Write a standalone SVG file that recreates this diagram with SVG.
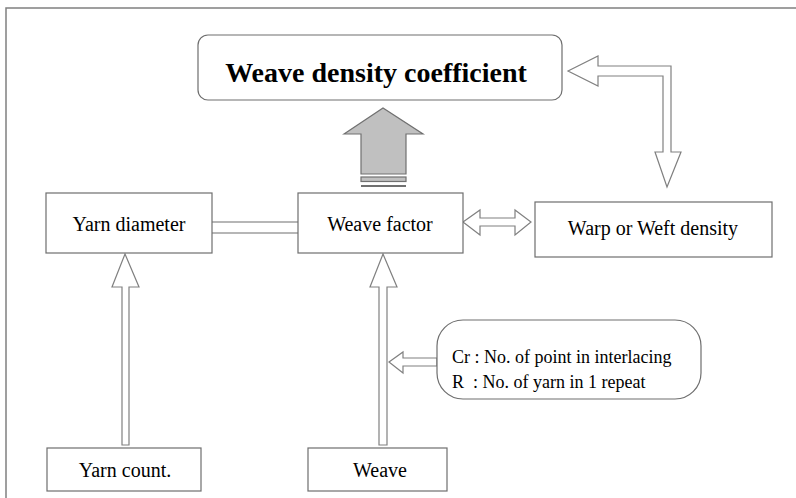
<svg xmlns="http://www.w3.org/2000/svg" width="796" height="498" viewBox="0 0 796 498">
<style>
.box{fill:#fff;stroke:#6e6e6e;stroke-width:1.2}
.arr{fill:#fff;stroke:#808080;stroke-width:1.2;stroke-linejoin:miter}
text{font-family:'Liberation Serif','Times New Roman',Tinos,Times,'DejaVu Serif',serif;fill:#000}
.t{font-size:20px;text-anchor:middle}
.s{font-size:18px;white-space:pre}
.ti{font-size:28px;font-weight:bold;text-anchor:middle}
</style>
<rect width="796" height="498" fill="#fff"/>
<path d="M6,498 V8 H796" fill="none" stroke="#808080" stroke-width="1.5"/>
<g id="connectors">
<polygon class="arr" points="344,134 383,108 423,134 406,134 406,174 361,174 361,134" style="fill:#c0c0c0;stroke:#707070"/>
<rect x="361" y="177" width="45" height="4.5" fill="#c0c0c0" stroke="#707070" stroke-width="1.2"/>
<line x1="361" y1="186" x2="406" y2="186" stroke="#707070" stroke-width="2"/>
<line x1="212" y1="222" x2="298" y2="222" stroke="#6e6e6e" stroke-width="1.2"/>
<line x1="212" y1="233" x2="298" y2="233" stroke="#6e6e6e" stroke-width="1.2"/>
<polygon class="arr" points="463,222 480,210 480,218 515,218 515,210 531,222 515,235 515,226 480,226 480,235"/>
<polygon class="arr" points="568,71 598,56 598,66 671,66 671,152 681,152 667,187 655,152 663,152 663,76 598,76 598,86"/>
<polygon class="arr" points="125,254 139,287 129,287 129,445 122,445 122,287 112,287"/>
<polygon class="arr" points="383,254 397,287 387,287 387,445 379,445 379,287 370,287"/>
<polygon class="arr" points="389,362 403,352 403,358 437,358 437,366 403,366 403,373"/>
</g>
<g id="title">
<rect class="box" x="198" y="35" width="364" height="65" rx="10"/>
<text class="ti" x="376" y="82" font-family="Liberation Serif, serif">Weave density coefficient</text>
</g>
<g id="yarn-diameter">
<rect class="box" x="46" y="193" width="166" height="60"/>
<text class="t" x="129" y="231">Yarn diameter</text>
</g>
<g id="weave-factor">
<rect class="box" x="298" y="193" width="165" height="60"/>
<text class="t" x="380" y="231">Weave factor</text>
</g>
<g id="warp-weft-density">
<rect class="box" x="535" y="202" width="237" height="55"/>
<text class="t" x="653" y="235">Warp or Weft density</text>
</g>
<g id="callout">
<rect class="box" x="437" y="320" width="264" height="79" rx="26"/>
<text class="s" x="452" y="363">Cr : No. of point in interlacing</text>
<text class="s" x="452" y="388" xml:space="preserve">R  : No. of yarn in 1 repeat</text>
</g>
<g id="yarn-count">
<rect class="box" x="47" y="448" width="154" height="43"/>
<text class="t" x="125" y="477">Yarn count.</text>
</g>
<g id="weave">
<rect class="box" x="308" y="448" width="139" height="43"/>
<text class="t" x="380" y="477">Weave</text>
</g>
</svg>
